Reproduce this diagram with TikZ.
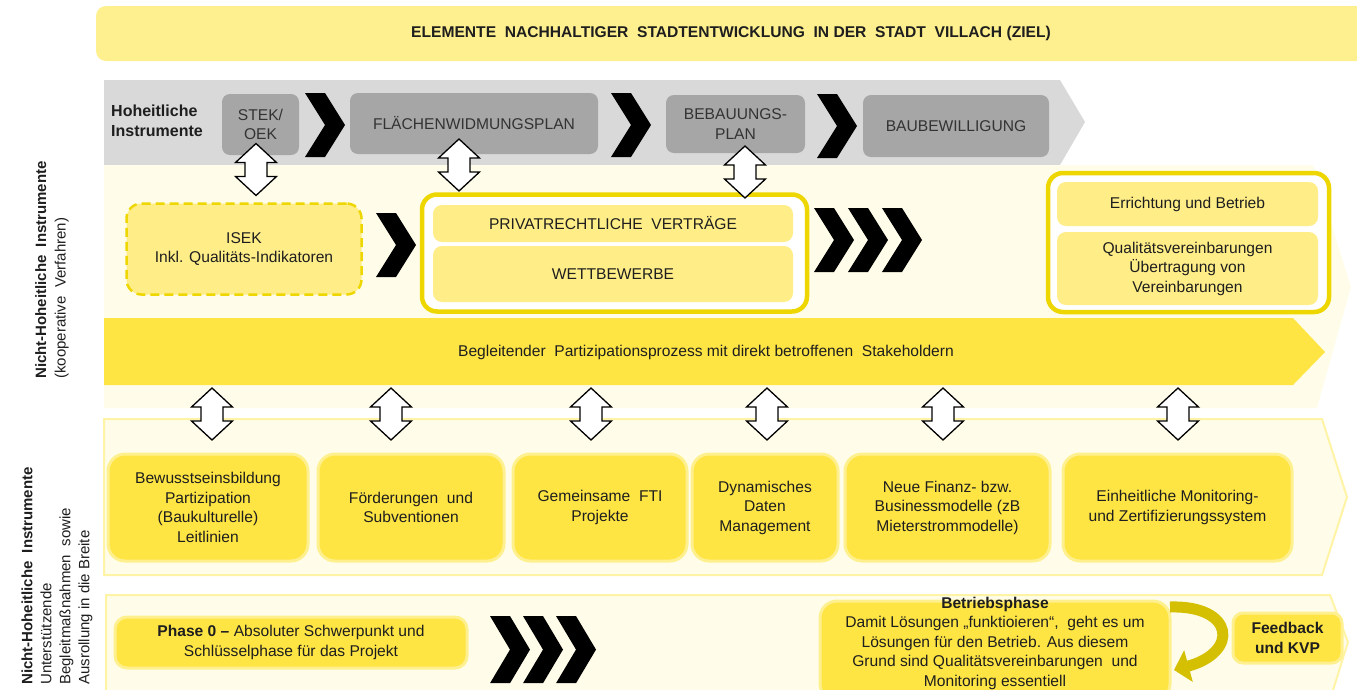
\documentclass[tikz,border=0pt]{standalone}
\usepackage{fontspec}
\setmainfont{Liberation Sans}
\usetikzlibrary{positioning,arrows.meta}

\definecolor{titlegelb}{HTML}{FFF08F}
\definecolor{boxgelb}{HTML}{FFEE88}
\definecolor{sattgelb}{HTML}{FFE544}
\definecolor{randgelb}{HTML}{EED600}
\definecolor{blassgelb}{HTML}{FFFDE9}
\definecolor{bandrand}{HTML}{FFF3A6}
\definecolor{hellgrau}{HTML}{D9D9D9}
\definecolor{dunkelgrau}{HTML}{A6A6A6}
\definecolor{goldpfeil}{HTML}{D4C000}
\definecolor{schrift}{HTML}{1E1E1E}

\tikzset{
  every node/.style={font=\fontsize{15.6}{19.5}\selectfont, text=schrift, align=center, inner sep=0pt},
  graubox/.style={fill=dunkelgrau, rounded corners=8pt, text=black!80},
  innenbox/.style={fill=boxgelb, rounded corners=9pt},
  rahmenbox/.style={draw=randgelb, line width=4.5pt, fill=white, rounded corners=15pt},
  massbox/.style={fill=sattgelb, draw=titlegelb, line width=3pt, rounded corners=17pt},
  band/.style={fill=blassgelb, draw=bandrand, line width=2pt},
  pics/chev/.style={code={\fill[black] (0,0) -- (20,0) -- (40,32) -- (20,64) -- (0,64) -- (20,32) -- cycle;}},
  pics/updown/.style={code={\draw[fill=white, line width=1.3pt, line join=miter]
    (0,-26) -- (20.5,-7) -- (11,-7) -- (11,7) -- (20.5,7) -- (0,26)
    -- (-20.5,7) -- (-11,7) -- (-11,-7) -- (-20.5,-7) -- cycle;}},
}

\begin{document}
\begin{tikzpicture}[x=1pt,y=-1pt]
\useasboundingbox (0,0) rectangle (1357,689);

% Baender im Hintergrund
\fill[hellgrau] (104,80) -- (1060,80) -- (1085,122) -- (1060,165) -- (104,165) -- cycle;
\fill[blassgelb] (104,165) -- (1313,165) -- (1351,287) -- (1317,408) -- (104,408) -- cycle;
\filldraw[band] (104,419) -- (1322,419) -- (1347,497) -- (1322,575) -- (104,575) -- cycle;
\filldraw[band] (106,595) -- (1330,595) -- (1348,642) -- (1330,700) -- (106,700) -- cycle;

% Ziel
\node[fill=titlegelb, rounded corners=10pt, minimum width=1270pt, minimum height=55pt,
  font=\bfseries\fontsize{15.6}{18}\selectfont] (ziel) at (731,33.5)
  {ELEMENTE\ \ NACHHALTIGER\ \ STADTENTWICKLUNG\ \ IN DER\ \ STADT\ \ VILLACH (ZIEL)};

% Hoheitliche Instrumente
\node[anchor=west, align=left, font=\bfseries\fontsize{16}{19.5}\selectfont] (hoheit) at (111,121) {Hoheitliche\\Instrumente};
\node[graubox, minimum width=77pt, minimum height=61pt] (stek) at (260.5,124.5) {STEK/\\OEK};
\node[graubox, minimum width=248pt, minimum height=61pt] (fwp) at (474,123.5) {FLÄCHENWIDMUNGSPLAN};
\node[graubox, minimum width=139pt, minimum height=58pt] (bplan) at (735.5,124) {BEBAUUNGS-\\PLAN};
\node[graubox, minimum width=186pt, minimum height=62pt] (baub) at (956,126) {BAUBEWILLIGUNG};
\pic at (305,93) {chev};
\pic at (611,93) {chev};
\pic at (817,94) {chev};

% kooperative Verfahren
\node[fill=boxgelb, draw=randgelb, line width=2.5pt, dash pattern=on 9pt off 5pt, rounded corners=15pt,
  minimum width=235pt, minimum height=91pt] (isek) at (244,249) {ISEK\\Inkl. Qualitäts-Indikatoren};
\pic at (376,213) {chev};
\node[rahmenbox, minimum width=385pt, minimum height=117pt] (vertrag) at (614.5,253) {};
\node[innenbox, minimum width=360pt, minimum height=37pt] (priv) at (613,223.5) {PRIVATRECHTLICHE\ \ VERTRÄGE};
\node[innenbox, minimum width=360pt, minimum height=56pt] (wett) at (613,274) {WETTBEWERBE};
\foreach \x in {814,848,882} \pic at (\x,208) {chev};
\node[rahmenbox, minimum width=281pt, minimum height=139pt] (betrieb) at (1188.5,242.5) {};
\node[innenbox, minimum width=261pt, minimum height=44pt] (errichtung) at (1187.5,204) {Errichtung und Betrieb};
\node[innenbox, minimum width=261pt, minimum height=73pt] (quali) at (1187.5,268.5) {Qualitätsvereinbarungen\\Übertragung von\\Vereinbarungen};
\pic at (256,169.5) {updown};
\pic at (459,165) {updown};
\pic at (745,172) {updown};

% Partizipation
\fill[sattgelb] (104,318) -- (1293,318) -- (1325,352) -- (1293,385) -- (104,385) -- cycle;
\node (partiz) at (706,352) {Begleitender\ \ Partizipationsprozess mit direkt betroffenen\ \ Stakeholdern};
\foreach \x in {212,391,591,767,943,1178} \pic at (\x,414) {updown};

% Begleitmassnahmen
\node[massbox, minimum width=200pt, minimum height=107pt] (bewusst) at (208,507.5) {Bewusstseinsbildung\\Partizipation\\(Baukulturelle)\\Leitlinien};
\node[massbox, minimum width=186pt, minimum height=107pt] (foerd) at (411,507.5) {Förderungen\ \ und\\Subventionen};
\node[massbox, minimum width=174pt, minimum height=107pt] (fti) at (600,507.5) {Gemeinsame\ \ FTI\\Projekte};
\node[massbox, minimum width=146pt, minimum height=107pt] (daten) at (765,507.5) {Dynamisches\\Daten\\Management};
\node[massbox, minimum width=205pt, minimum height=107pt] (finanz) at (947.5,507.5) {Neue Finanz- bzw.\\Businessmodelle (zB\\Mieterstrommodelle)};
\node[massbox, minimum width=229pt, minimum height=107pt] (monit) at (1177.5,507.5) {Einheitliche Monitoring-\\und Zertifizierungssystem};

% Phasen
\node[massbox, rounded corners=12pt, minimum width=352pt, minimum height=51pt] (phase) at (291,642.5)
  {\textbf{Phase 0 –} Absoluter Schwerpunkt und\\Schlüsselphase für das Projekt};
\foreach \x in {490,523,556} \pic[yscale=1.05] at (\x,616) {chev};
\node[massbox, minimum width=350pt, minimum height=100pt] (bphase) at (995,651) {};
\node (btext) at (995,643) {\textbf{Betriebsphase}\\Damit Lösungen „funktioieren“,\ \ geht es um\\Lösungen für den Betrieb. Aus diesem\\Grund sind Qualitätsvereinbarungen\ \ und\\Monitoring essentiell};
\node[massbox, rounded corners=10pt, minimum width=109pt, minimum height=50pt, font=\bfseries\fontsize{15.6}{19.5}\selectfont] (feedback) at (1287.5,638) {Feedback\\und KVP};
\coordinate (fbstart) at (1170,607);
\coordinate (fbende) at (1174,670);
\draw[goldpfeil, line width=11pt, -{Triangle[width=32pt,length=15pt]}] (fbstart) .. controls (1234,605) and (1240,652) .. (fbende);

% Beschriftung links
\node[rotate=90, anchor=west, align=left, font=\fontsize{15}{19.5}\selectfont] (nhi1) at (52,379) {\textbf{Nicht-Hoheitliche\ \ Instrumente}\\(kooperative\ \ Verfahren)};
\node[rotate=90, anchor=west, align=left, font=\fontsize{15}{19}\selectfont] (nhi2) at (57,685) {\textbf{Nicht-Hoheitliche\ \ Instrumente}\\Unterstützende\\Begleitmaßnahmen\ \ sowie\\Ausrollung in die Breite};
\end{tikzpicture}
\end{document}
